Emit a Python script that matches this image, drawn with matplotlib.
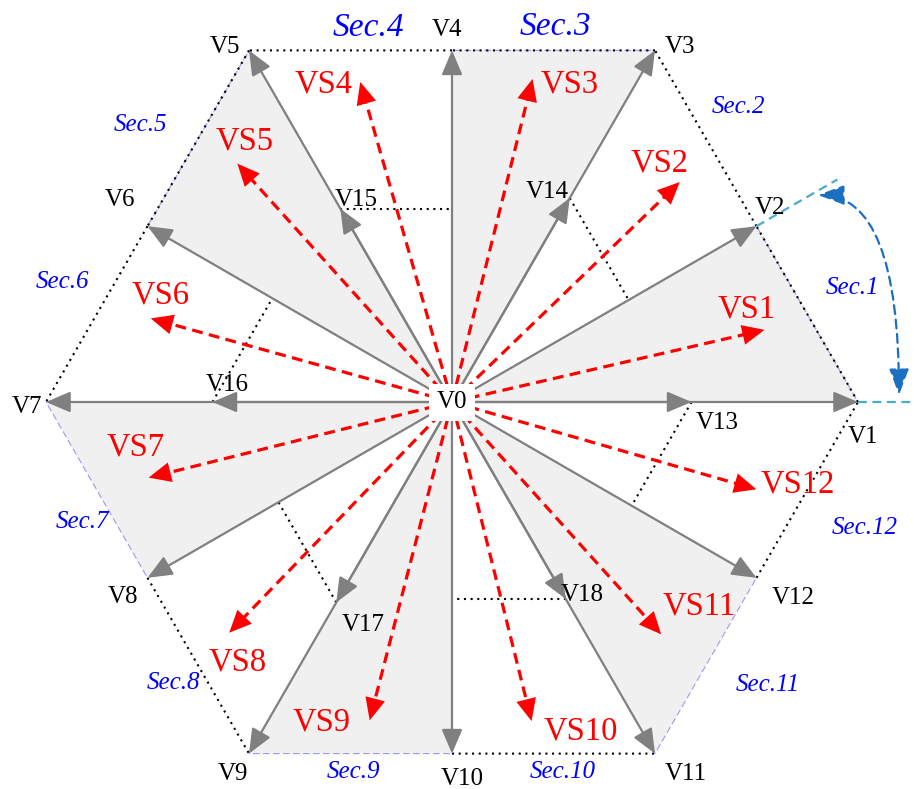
import numpy as np
import matplotlib.pyplot as plt

plt.rcParams['font.family'] = ['Liberation Serif', 'DejaVu Serif']

# switching vectors on the hexagon (V1..V12) and the inner ones (V13..V18)
outer_names = ['V1', 'V2', 'V3', 'V4', 'V5', 'V6', 'V7', 'V8', 'V9', 'V10', 'V11', 'V12']
outer_angles = [0, 30, 60, 90, 120, 150, 180, 210, 240, 270, 300, 330]
outer_mags = [1, 0.866, 1, 0.866, 1, 0.866, 1, 0.866, 1, 0.866, 1, 0.866]

inner_names = ['V13', 'V14', 'V15', 'V16', 'V17', 'V18']
inner_angles = [0, 60, 120, 180, 240, 300]
inner_mags = [0.59, 0.58, 0.55, 0.59, 0.57, 0.56]

# reference vectors VS1..VS12
ref_names = ['VS1', 'VS2', 'VS3', 'VS4', 'VS5', 'VS6', 'VS7', 'VS8', 'VS9', 'VS10', 'VS11', 'VS12']
ref_angles = [13, 44, 76, 106, 132, 164.5, 194, 226, 255.5, 284, 312, 344]
ref_mags = [0.79, 0.78, 0.82, 0.82, 0.79, 0.77, 0.77, 0.79, 0.81, 0.81, 0.77, 0.78]

sector_names = ['Sec.1', 'Sec.2', 'Sec.3', 'Sec.4', 'Sec.5', 'Sec.6',
                'Sec.7', 'Sec.8', 'Sec.9', 'Sec.10', 'Sec.11', 'Sec.12']
shaded_sectors = [1, 3, 5, 7, 9, 11]

# layout (pixels)
CX, CY, R = 452, 402, 406
outer_off = [(5, -35), (13, 18), (25, 3), (-5, 20), (-24, 3), (-28, 26),
             (-19, -5), (-25, -19), (-16, -20), (10, -25), (31, -20), (37, -20)]
inner_off = [(26, -21), (-23, 6), (16, 9), (15, 17), (27, -23), (17, 4)]
ref_off = [(-18, 21), (-20, 19), (37, -5), (-37, -2), (7, 22), (10, 23),
           (-13, 30), (8, -30), (-48, -2), (49, -10), (38, 28), (41, 5)]
sector_pos = [(852, 288), (738, 107), (555, 27), (368, 28), (140, 125), (62, 282),
              (82, 522), (173, 683), (353, 772), (563, 772), (768, 685), (865, 528)]


def pol(a, r):
    t = np.deg2rad(a)
    return np.array([r * np.cos(t), r * np.sin(t)])


def px(x, y):
    return ((x - CX) / R, (CY - y) / R)


fig = plt.figure(figsize=(9.14, 7.89), dpi=100)
ax = fig.add_axes([0, 0, 1, 1])
ax.set_xlim(-CX / R, (914 - CX) / R)
ax.set_ylim((CY - 789) / R, CY / R)
ax.axis('off')

outer_tips = [pol(a, m) for a, m in zip(outer_angles, outer_mags)]

# shaded sector triangles
for s in shaded_sectors:
    p1, p2 = outer_tips[s - 1], outer_tips[s % 12]
    tri = plt.Polygon([(0, 0), p1, p2], closed=True, facecolor='#f0f0f0',
                      edgecolor='#9a9af0', lw=0.8, ls=(0, (6, 3)), zorder=1)
    ax.add_patch(tri)

# hexagon edges (dotted)
no_dots = [6, 8, 10]
for i in range(12):
    if i in no_dots:
        continue
    p1, p2 = outer_tips[i], outer_tips[(i + 1) % 12]
    ax.plot([p1[0], p2[0]], [p1[1], p2[1]], color='black', lw=1.5,
            ls=(0, (1, 2.2)), zorder=2)

# projections of the inner vectors
for a, m in zip(inner_angles, inner_mags):
    tip = pol(a, m)
    foot = pol(a - 30, m * np.cos(np.deg2rad(30)))
    ax.plot([tip[0], foot[0]], [tip[1], foot[1]], color='black', lw=1.5,
            ls=(0, (1, 2.2)), zorder=2)

gray_style = dict(arrowstyle='-|>,head_length=0.75,head_width=0.32', mutation_scale=20,
                  color='#808080', lw=1.6, shrinkA=0, shrinkB=0)

for name, a, m, off in zip(outer_names, outer_angles, outer_mags, outer_off):
    tip = pol(a, m)
    ax.annotate('', xy=tip, xytext=(0, 0), arrowprops=gray_style, zorder=3)
    ax.annotate(name, xy=tip, xytext=off, textcoords='offset pixels',
                ha='center', va='center', fontsize=18, zorder=5)

for name, a, m, off in zip(inner_names, inner_angles, inner_mags, inner_off):
    tip = pol(a, m)
    ax.annotate('', xy=tip, xytext=(0, 0), arrowprops=gray_style, zorder=3)
    ax.annotate(name, xy=tip, xytext=off, textcoords='offset pixels',
                ha='center', va='center', fontsize=18, zorder=5)

# reference vectors (red dashed)
for name, a, m, off in zip(ref_names, ref_angles, ref_mags, ref_off):
    tip = pol(a, m)
    end = pol(a, m - 0.03)
    ax.plot([0, end[0]], [0, end[1]], color='red', lw=2.3,
            ls=(0, (3.4, 2.0)), zorder=4)
    ax.annotate('', xy=tip, xytext=pol(a, m - 0.1),
                arrowprops=dict(arrowstyle='-|>,head_length=0.8,head_width=0.36',
                                mutation_scale=20, color='red', lw=0.01,
                                shrinkA=0, shrinkB=0), zorder=4)
    ax.annotate(name, xy=tip, xytext=off, textcoords='offset pixels',
                ha='center', va='center', fontsize=23.5, color='red', zorder=5)

# sector labels
for name, pos in zip(sector_names, sector_pos):
    size = 24 if name in ('Sec.3', 'Sec.4') else 18
    ax.text(*px(*pos), name, ha='center', va='center', fontsize=size,
            style='italic', color='blue', zorder=5)

# sector 1 span indicator
e2a, e2b = pol(30, 0.866), pol(30, 1.096)
ax.plot([e2a[0], e2b[0]], [e2a[1], e2b[1]], color='#4bacc6', lw=1.6,
        ls=(0, (4, 2.5)), zorder=3)
e1a, e1b = pol(0, 1.0), pol(0, 1.2)
ax.plot([e1a[0], e1b[0]], [e1a[1], e1b[1]], color='#4bacc6', lw=1.6,
        ls=(0, (4, 2.5)), zorder=3)
ax.annotate('', xy=px(899, 395), xytext=px(818, 195),
            arrowprops=dict(arrowstyle='<|-|>,head_length=0.8,head_width=0.3',
                            mutation_scale=20, color='#1a6fc0', lw=1.6,
                            ls=(0, (4, 2.5)), shrinkA=0, shrinkB=0,
                            connectionstyle='angle3,angleA=0,angleB=90'), zorder=3)

ax.text(0, 0, 'V0', ha='center', va='center', fontsize=18, zorder=6,
        bbox=dict(boxstyle='square,pad=0.3', facecolor='white', edgecolor='none'))

fig.savefig('out.png', dpi=100)
